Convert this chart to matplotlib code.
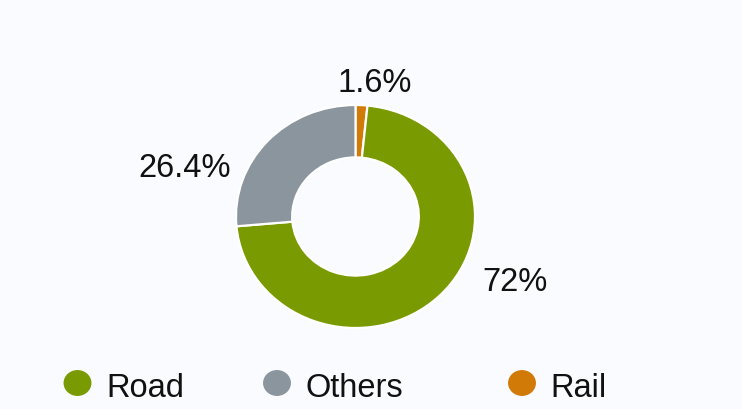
import matplotlib
matplotlib.use("Agg")
import matplotlib.pyplot as plt
from matplotlib.patches import Ellipse

categories = ["Rail", "Road", "Others"]
values = [1.6, 72.0, 26.4]
labels = ["1.6%", "72%", "26.4%"]
colors = ["#D27A08", "#7A9A01", "#8A959E"]

legend_order = ["Road", "Others", "Rail"]

W, H = 742, 410
BG = "#FAFBFE"
plt.rcParams['font.family'] = ['Liberation Sans', 'DejaVu Sans']

fig = plt.figure(figsize=(W / 100, H / 100), dpi=100, facecolor=BG)
ax = fig.add_axes([0, 0, 1, 1])
ax.set_facecolor(BG)

cx, cy, rx, ry = 355.5, 217.5, 119.5, 111.5

wedges, _ = ax.pie(values, colors=colors, startangle=90, counterclock=False,
                   radius=1.0, wedgeprops=dict(width=0.47, edgecolor='white', linewidth=1.6))

# map pixel coords -> data units (radius 1 = outer radius)
ax.set_aspect('auto')
ax.set_xlim((0 - cx) / rx, (W - cx) / rx)
ax.set_ylim((cy - H) / ry, (cy - 0) / ry)
ax.axis('off')

def px(x, y):
    return (x - cx) / rx, (cy - y) / ry

FS = 23.5
TXT = '#111111'
# centre x, baseline y
label_pos = {"Rail": (375, 92), "Road": (515, 291.5), "Others": (185, 177.5)}
for cat, lab in zip(categories, labels):
    x, y = px(*label_pos[cat])
    ax.text(x, y, lab, ha='center', va='baseline', fontsize=FS, color=TXT)

# legend
leg_circle_x = {"Road": 77.5, "Others": 277, "Rail": 522}
leg_y = 384
leg_base = 397.5
cmap = dict(zip(categories, colors))
for cat in legend_order:
    x, y = px(leg_circle_x[cat], leg_y)
    ax.add_patch(Ellipse((x, y), 26.5 / rx, 24.5 / ry, color=cmap[cat]))
    tx, ty = px(leg_circle_x[cat] + 28.5, leg_base)
    ax.text(tx, ty, cat, ha='left', va='baseline', fontsize=FS, color=TXT)

fig.savefig("out.png", dpi=100, facecolor=BG)
